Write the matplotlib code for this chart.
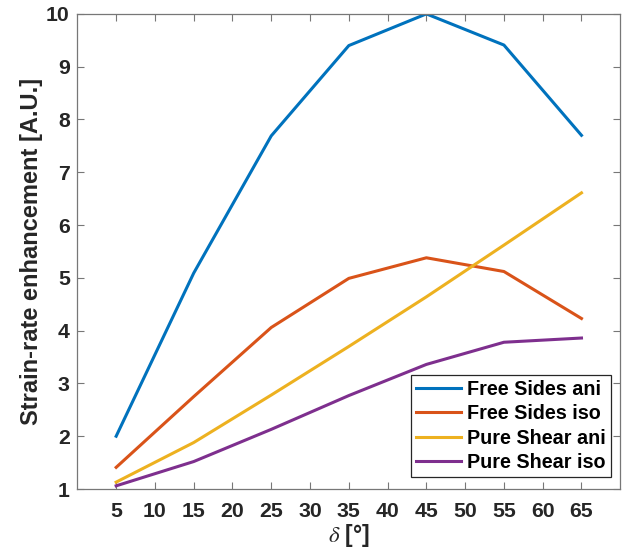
import matplotlib
matplotlib.use("Agg")
import matplotlib.pyplot as plt

plt.rcParams['font.family'] = ['Liberation Sans', 'DejaVu Sans']
plt.rcParams['mathtext.fontset'] = 'stix'

delta = [5, 15, 25, 35, 45, 55, 65]
free_sides_ani = [2.0, 5.09, 7.69, 9.4, 10.0, 9.41, 7.70]
free_sides_iso = [1.41, 2.75, 4.06, 4.99, 5.38, 5.12, 4.23]
pure_shear_ani = [1.13, 1.88, 2.78, 3.70, 4.64, 5.62, 6.61]
pure_shear_iso = [1.06, 1.52, 2.13, 2.77, 3.36, 3.78, 3.86]
labels = ['Free Sides ani', 'Free Sides iso', 'Pure Shear ani', 'Pure Shear iso']
colors = ['#0072BD', '#D95319', '#EDB120', '#7E2F8E']
xticks = list(range(5, 70, 5))
yticks = list(range(1, 11))

fig = plt.figure(figsize=(6.24, 5.56), dpi=100)
ax = fig.add_axes([0.124, 0.1205, 0.870, 0.8545])

for y, lab, c in zip([free_sides_ani, free_sides_iso, pure_shear_ani, pure_shear_iso], labels, colors):
    ax.plot(delta, y, color=c, lw=2.2, label=lab)

ax.set_xlim(0, 70)
ax.set_ylim(1, 10)
ax.set_xticks(xticks)
ax.set_yticks(yticks)
ax.tick_params(direction='in', top=True, right=True, length=5, width=0.8,
               colors='#777777', labelcolor='#262626', labelsize=15.3)
ax.tick_params(axis='x', pad=9)
ax.tick_params(axis='y', pad=5.5)
for lbl in ax.get_xticklabels() + ax.get_yticklabels():
    lbl.set_fontweight('bold')
for s in ax.spines.values():
    s.set_color('#777777')
    s.set_linewidth(0.9)

ax.set_xlabel(r'$\delta$ [°]', fontsize=16.5, fontweight='bold', color='#262626', labelpad=1)
ax.set_ylabel('Strain-rate enhancement [A.U.]', fontsize=17, fontweight='bold', color='#262626', labelpad=2.5)

leg = ax.legend(loc='lower right', prop={'weight': 'bold', 'size': 14.2},
                fancybox=False, framealpha=1, edgecolor='#262626',
                handlelength=2.3, handletextpad=0.3, borderpad=0.25,
                labelspacing=0.28, bbox_to_anchor=(0.983, 0.025), borderaxespad=0)
leg.get_frame().set_linewidth(0.9)

fig.savefig('out.png', dpi=100)
